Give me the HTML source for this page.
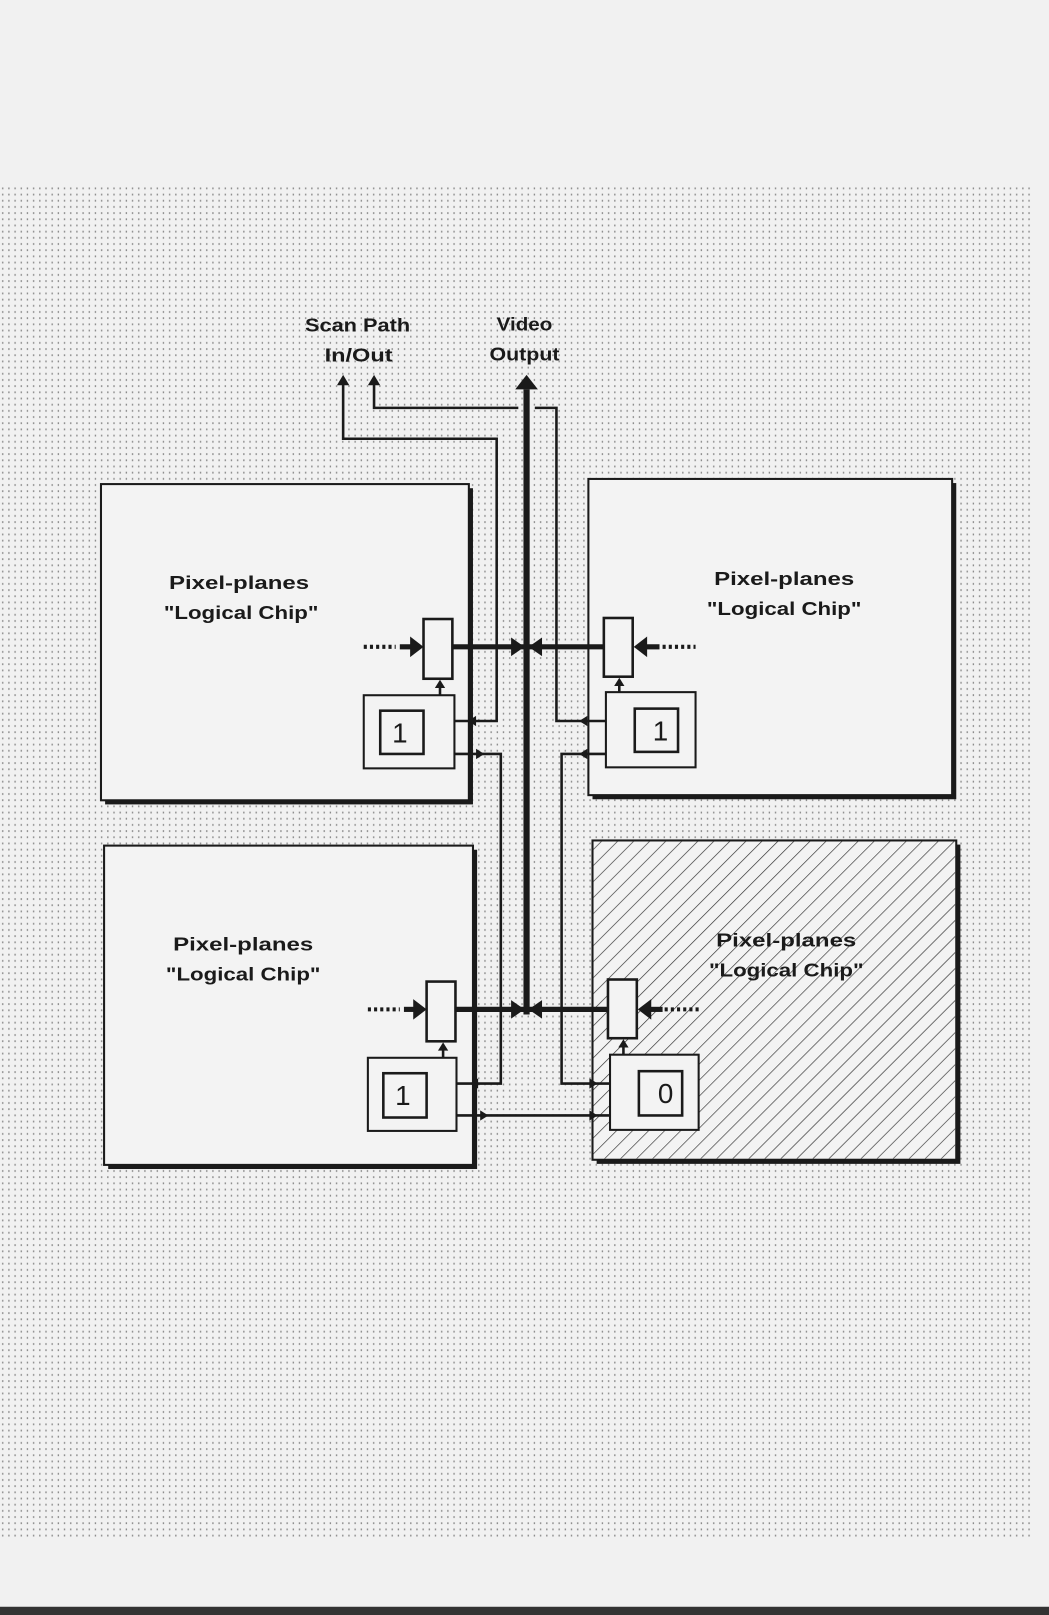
<!DOCTYPE html>
<html><head><meta charset="utf-8"><style>
html,body{margin:0;padding:0;background:#f1f1f1;}
svg{display:block;}
text{font-family:"Liberation Sans",sans-serif;font-weight:bold;fill:#1a1a1a;font-size:18px;}
text.dg{font-size:27px;font-weight:normal;}
</style></head><body>
<svg width="1049" height="1615" viewBox="0 0 1018 1568" preserveAspectRatio="none" xmlns="http://www.w3.org/2000/svg">
<defs>
<pattern id="dots" width="6" height="6" patternUnits="userSpaceOnUse">
<rect x="2" y="2" width="1.3" height="1.8" fill="#8a8a8a"/>
</pattern>
<pattern id="hatch" width="11" height="11" patternUnits="userSpaceOnUse" patternTransform="rotate(45)">
<line x1="0" y1="0" x2="0" y2="11" stroke="#333" stroke-width="1.3"/>
</pattern>
</defs>
<rect width="1018" height="1568" fill="#f1f1f1"/>
<rect x="0" y="180" width="1000" height="1315" fill="url(#dots)"/>
<rect x="0" y="1560" width="1018" height="8" fill="#333"/>

<text x="347" y="322" text-anchor="middle" textLength="102" lengthAdjust="spacingAndGlyphs">Scan Path</text>
<text x="348" y="351" text-anchor="middle" textLength="66" lengthAdjust="spacingAndGlyphs">In/Out</text>
<text x="509" y="321" text-anchor="middle" textLength="54" lengthAdjust="spacingAndGlyphs">Video</text>
<text x="509" y="350" text-anchor="middle" textLength="68" lengthAdjust="spacingAndGlyphs">Output</text>

<g stroke="#1a1a1a">
<rect x="102" y="474" width="357" height="307" fill="#1a1a1a" stroke="none"/>
<rect x="98" y="470" width="357" height="307" fill="#f3f3f3" stroke-width="2"/>
<rect x="575" y="469" width="353" height="307" fill="#1a1a1a" stroke="none"/>
<rect x="571" y="465" width="353" height="307" fill="#f3f3f3" stroke-width="2"/>
<rect x="105" y="825" width="358" height="310" fill="#1a1a1a" stroke="none"/>
<rect x="101" y="821" width="358" height="310" fill="#f3f3f3" stroke-width="2"/>
<rect x="579" y="820" width="353" height="310" fill="#1a1a1a" stroke="none"/>
<rect x="575" y="816" width="353" height="310" fill="#f3f3f3" stroke-width="2"/>
<rect x="576" y="817" width="351" height="308" fill="url(#hatch)" stroke="none"/>
</g>

<g text-anchor="middle">
<text x="232" y="572" textLength="136" lengthAdjust="spacingAndGlyphs">Pixel-planes</text>
<text x="234" y="601" textLength="150" lengthAdjust="spacingAndGlyphs">"Logical Chip"</text>
<text x="761" y="568" textLength="136" lengthAdjust="spacingAndGlyphs">Pixel-planes</text>
<text x="761" y="597" textLength="150" lengthAdjust="spacingAndGlyphs">"Logical Chip"</text>
<text x="236" y="923" textLength="136" lengthAdjust="spacingAndGlyphs">Pixel-planes</text>
<text x="236" y="952" textLength="150" lengthAdjust="spacingAndGlyphs">"Logical Chip"</text>
<text x="763" y="919" textLength="136" lengthAdjust="spacingAndGlyphs">Pixel-planes</text>
<text x="763" y="948" textLength="150" lengthAdjust="spacingAndGlyphs">"Logical Chip"</text>
</g>

<g fill="none" stroke="#1a1a1a" stroke-width="2.5">
<polyline points="333,372 333,426 482,426 482,700 441,700"/>
<polyline points="363,372 363,396 503,396"/>
<polyline points="519,396 540,396 540,700 588,700"/>
<polyline points="441,732 486,732 486,1052 443,1052"/>
<polyline points="588,732 545,732 545,1052 592,1052"/>
<polyline points="443,1083 592,1083"/>
</g>
<g fill="#1a1a1a">
<polygon points="327,374 333,364 339,374"/>
<polygon points="357,374 363,364 369,374"/>
<polygon points="462,695 454,700 462,705"/>
<polygon points="462,727 470,732 462,737"/>
<polygon points="464,1047 456,1052 464,1057"/>
<polygon points="466,1078 474,1083 466,1088"/>
<polygon points="570,695 562,700 570,705"/>
<polygon points="570,727 562,732 570,737"/>
<polygon points="572,1047 580,1052 572,1057"/>
<polygon points="572,1078 580,1083 572,1088"/>
</g>

<g stroke="#1a1a1a" fill="none">
<line x1="511" y1="378" x2="511" y2="985" stroke-width="6"/>
<line x1="440" y1="628" x2="586" y2="628" stroke-width="5"/>
<line x1="443" y1="980" x2="590" y2="980" stroke-width="5"/>
</g>
<g fill="#1a1a1a">
<polygon points="500,378 511,364 522,378"/>
<polygon points="496,619 509,628 496,637"/>
<polygon points="526,619 513,628 526,637"/>
<polygon points="496,971 509,980 496,989"/>
<polygon points="526,971 513,980 526,989"/>
</g>

<g stroke="#1a1a1a" stroke-width="4" stroke-dasharray="3,3" fill="none">
<line x1="353" y1="628" x2="384" y2="628"/>
<line x1="643" y1="628" x2="675" y2="628"/>
<line x1="357" y1="980" x2="388" y2="980"/>
<line x1="645" y1="980" x2="678" y2="980"/>
</g>
<g stroke="#1a1a1a" stroke-width="5">
<line x1="388" y1="628" x2="402" y2="628"/>
<line x1="626" y1="628" x2="640" y2="628"/>
<line x1="392" y1="980" x2="405" y2="980"/>
<line x1="630" y1="980" x2="643" y2="980"/>
</g>
<g fill="#1a1a1a">
<polygon points="398,618 411,628 398,638"/>
<polygon points="628,618 615,628 628,638"/>
<polygon points="401,970 414,980 401,990"/>
<polygon points="632,970 619,980 632,990"/>
</g>

<g fill="#f3f3f3" stroke="#1a1a1a" stroke-width="2.5">
<rect x="411" y="601" width="28" height="58"/>
<rect x="586" y="600" width="28" height="57"/>
<rect x="414" y="953" width="28" height="58"/>
<rect x="590" y="951" width="28" height="57"/>
</g>
<g stroke="#1a1a1a" stroke-width="2.5">
<line x1="427" y1="662" x2="427" y2="675"/>
<line x1="601" y1="660" x2="601" y2="672"/>
<line x1="430" y1="1014" x2="430" y2="1027"/>
<line x1="605" y1="1011" x2="605" y2="1024"/>
</g>
<g fill="#1a1a1a">
<polygon points="422,668 427,660 432,668"/>
<polygon points="596,666 601,658 606,666"/>
<polygon points="425,1020 430,1012 435,1020"/>
<polygon points="600,1017 605,1009 610,1017"/>
</g>

<g fill="#f3f3f3" stroke="#1a1a1a" stroke-width="2">
<rect x="353" y="675" width="88" height="71"/>
<rect x="588" y="672" width="87" height="73"/>
<rect x="357" y="1027" width="86" height="71"/>
<rect x="592" y="1024" width="86" height="73"/>
</g>
<g fill="#f3f3f3" stroke="#1a1a1a" stroke-width="2.5">
<rect x="369" y="690" width="42" height="42"/>
<rect x="616" y="688" width="42" height="42"/>
<rect x="372" y="1042" width="42" height="43"/>
<rect x="620" y="1040" width="42" height="43"/>
</g>
<g text-anchor="middle">
<text class="dg" x="388" y="721" style="font-size:27px;font-weight:normal">1</text>
<text class="dg" x="641" y="719" style="font-size:27px;font-weight:normal">1</text>
<text class="dg" x="391" y="1073" style="font-size:27px;font-weight:normal">1</text>
<text class="dg" x="646" y="1071" style="font-size:27px;font-weight:normal">0</text>
</g>
</svg>
</body></html>
